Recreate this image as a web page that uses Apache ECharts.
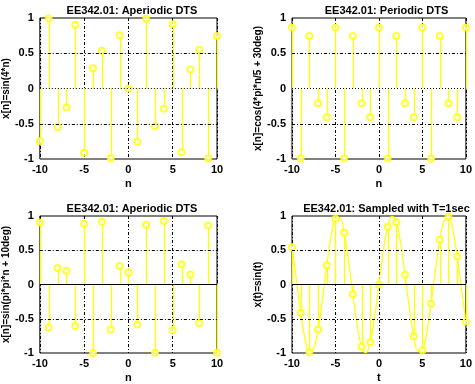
<!DOCTYPE html>
<html>
<head>
<meta charset="utf-8">
<script src="https://cdn.jsdelivr.net/npm/echarts@6/dist/echarts.min.js"></script>
<style>
html,body{margin:0;padding:0;background:#fff;}
#chart{width:475px;height:384px;}
</style>
</head>
<body>
<div id="chart"></div>
<script>
// ---- Data ----
const nValues = [-10,-9,-8,-7,-6,-5,-4,-3,-2,-1,0,1,2,3,4,5,6,7,8,9,10];
// x[n] = sin(4*n)
const xn1 = [-0.7451,0.9918,-0.5514,-0.2709,0.9056,-0.9129,0.2879,0.5366,-0.9894,0.7568,0,-0.7568,0.9894,-0.5366,-0.2879,0.9129,-0.9056,0.2709,0.5514,-0.9918,0.7451];
// x[n] = cos(4*pi*n/5 + 30deg)
const xn2 = [0.866,-0.9945,0.7431,-0.2079,-0.4067,0.866,-0.9945,0.7431,-0.2079,-0.4067,0.866,-0.9945,0.7431,-0.2079,-0.4067,0.866,-0.9945,0.7431,-0.2079,-0.4067,0.866];
// x[n] = sin(pi*pi*n + 10deg)
const xn3 = [0.9053,-0.6328,0.2408,0.2011,-0.6065,0.887,-0.9995,0.9161,-0.6582,0.2687,0.1736,-0.5842,0.874,-0.9978,0.928,-0.6687,0.2958,0.1465,-0.5609,0.861,-0.9961];
// samples of sin(t), T = 1 sec
const xs4 = [0.5440,-0.4121,-0.9894,-0.6570,0.2794,0.9589,0.7568,-0.1411,-0.9093,-0.8415,0,0.8415,0.9093,0.1411,-0.7568,-0.9589,-0.2794,0.6570,0.9894,0.4121,-0.5440];
// continuous curve x(t) = sin(t)
const tCurve = [-10,-9.5,-9,-8.5,-8,-7.5,-7,-6.5,-6,-5.5,-5,-4.5,-4,-3.5,-3,-2.5,-2,-1.5,-1,-0.5,0,0.5,1,1.5,2,2.5,3,3.5,4,4.5,5,5.5,6,6.5,7,7.5,8,8.5,9,9.5,10];
const xCurve = [0.5440,0.0752,-0.4121,-0.7985,-0.9894,-0.9380,-0.6570,-0.2151,0.2794,0.7055,0.9589,0.9775,0.7568,0.3508,-0.1411,-0.5985,-0.9093,-0.9975,-0.8415,-0.4794,0,0.4794,0.8415,0.9975,0.9093,0.5985,0.1411,-0.3508,-0.7568,-0.9775,-0.9589,-0.7055,-0.2794,0.2151,0.6570,0.9380,0.9894,0.7985,0.4121,-0.0752,-0.5440];

const titles = ['EE342.01: Aperiodic DTS','EE342.01: Periodic DTS','EE342.01: Aperiodic DTS','EE342.01: Sampled with T=1sec'];
const yNames = ['x[n]=sin(4*n)','x[n]=cos(4*pi*n/5 + 30deg)','x[n]=sin(pi*pi*n + 10deg)','x(t)=sin(t)'];
const xNames = ['n','n','n','t'];
const yGridLines = [-0.5, 0.5];

// ---- Layout ----
const FONT = 'Liberation Sans, Arial, Helvetica, sans-serif';
const YEL = '#ffff00';
const grids = [
  {left:37, top:18, width:180, height:141},
  {left:292, top:18, width:179, height:141},
  {left:37, top:216, width:180, height:141},
  {left:292, top:216, width:179, height:141}
];
const zeroStyles = [
  {color:'#000', type:[1,2], width:1},
  {color:'#000', type:[1,2], width:1},
  {color:'#000', type:'solid', width:1},
  {color:'#000', type:'solid', width:1}
];
const sampleSets = [xn1, xn2, xn3, xs4];

const option = {
  animation:false,
  backgroundColor:'#fff',
  textStyle:{fontFamily:FONT},
  title: grids.map((g,i)=>({
    text: titles[i],
    left: g.left + g.width/2,
    top: g.top - 18,
    textAlign:'center',
    textStyle:{fontSize:11, fontWeight:'bold', color:'#000', fontFamily:FONT}
  })),
  grid: grids.map(g=>Object.assign({show:true, borderColor:'#000', borderWidth:1, backgroundColor:'transparent'}, g)),
  xAxis: grids.map((g,i)=>({
    type:'value', gridIndex:i, min:-10, max:10, interval:5,
    axisLine:{show:false}, axisTick:{show:false},
    axisLabel:{color:'#000', fontSize:11, fontWeight:'bold', margin:5, fontFamily:FONT},
    splitLine:{show:true, lineStyle:{color:'#000', type:[3,2,1,2], width:1}},
    name:xNames[i], nameLocation:'middle', nameGap:19,
    nameTextStyle:{color:'#000', fontSize:11, fontWeight:'bold', fontFamily:FONT}
  })),
  yAxis: grids.map((g,i)=>({
    type:'value', gridIndex:i, min:-1, max:1, interval:0.5,
    axisLine:{show:false}, axisTick:{show:false},
    axisLabel:{color:'#000', fontSize:11, fontWeight:'bold', margin:6, fontFamily:FONT},
    splitLine:{show:false},
    name:yNames[i], nameLocation:'middle', nameGap: i%2===0 ? 24 : 27,
    nameTextStyle:{color:'#000', fontSize:10, fontWeight:'bold', fontFamily:FONT}
  })),
  series: []
};

grids.forEach((g,i)=>{
  // grid lines (horizontal)
  option.series.push({
    type:'line', xAxisIndex:i, yAxisIndex:i, data:[], z:1, silent:true,
    markLine:{
      silent:true, symbol:'none', label:{show:false},
      data: yGridLines.map(v=>({yAxis:v, lineStyle:{color:'#000', type:[3,2,1,2], width:1}}))
        .concat([{yAxis:0, lineStyle:zeroStyles[i]}])
    }
  });
  if (i === 3) {
    option.series.push({
      type:'line', xAxisIndex:i, yAxisIndex:i, z:2, smooth:0.4, showSymbol:false, symbol:'none',
      lineStyle:{color:YEL, width:1.2}, itemStyle:{color:YEL},
      data: tCurve.map((t,k)=>[t, xCurve[k]])
    });
  }
  const vals = sampleSets[i];
  option.series.push({
    type:'custom', xAxisIndex:i, yAxisIndex:i, z:3,
    data: nValues.map((n,k)=>[n, vals[k]]),
    renderItem:(params, api)=>{
      const p0 = api.coord([api.value(0), 0]);
      const p1 = api.coord([api.value(0), api.value(1)]);
      const x = Math.round(p0[0]) + 0.5;
      return {type:'line', shape:{x1:x, y1:p0[1], x2:x, y2:p1[1]}, style:{stroke:YEL, lineWidth:1.3, fill:null}};
    }
  });
  option.series.push({
    type:'scatter', xAxisIndex:i, yAxisIndex:i, z:4,
    symbol:'emptyCircle', symbolSize:6,
    itemStyle:{color:YEL, borderColor:YEL, borderWidth:1.2},
    data: nValues.map((n,k)=>[n, vals[k]])
  });
});

const chart = echarts.init(document.getElementById('chart'), null, {renderer:'canvas'});
chart.setOption(option);
</script>
</body>
</html>
